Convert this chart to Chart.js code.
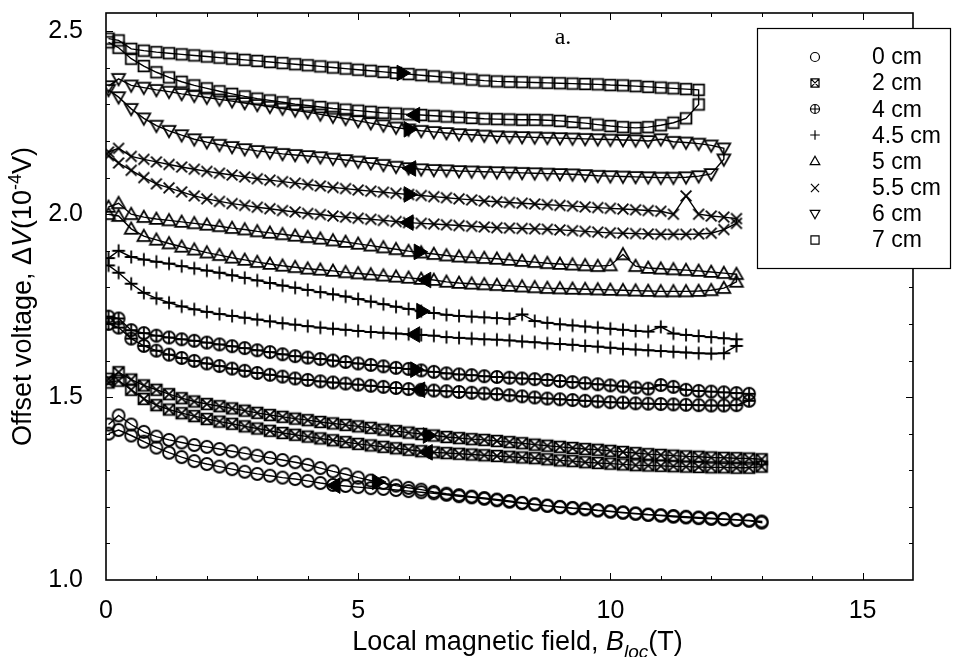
<!DOCTYPE html>
<html><head><meta charset="utf-8">
<script src="https://cdn.jsdelivr.net/npm/chart.js@4.4.1/dist/chart.umd.min.js"></script>
<style>html,body{margin:0;padding:0;background:#fff;}#wrap{width:953px;height:657px;position:relative;}</style>
</head><body><div id="wrap"><canvas id="c" width="953" height="657"></canvas></div>
<script>
// ---- data: local magnetic field grid (T) ----
const G = [0.05,0.25,0.5,0.75,1,1.25,1.5,1.75,2,2.25,2.5,2.75,3,3.25,3.5,3.75,4,4.25,4.5,4.75,5,5.25,5.5,5.75,6,6.25,6.5,6.75,7,7.25,7.5,7.75,8,8.25,8.5,8.75,9,9.25,9.5,9.75,10,10.25,10.5,10.75,11,11.25,11.5,11.75,12,12.25,12.5,12.75,13];

// offset voltage (1e-4 V): up = increasing field branch, dn = decreasing field branch (listed in increasing B order)
const V0_UP = [1.425,1.45,1.425,1.405,1.392,1.383,1.376,1.369,1.364,1.358,1.352,1.346,1.34,1.334,1.328,1.322,1.315,1.306,1.297,1.289,1.28,1.272,1.265,1.258,1.252,1.247,1.241,1.236,1.232,1.228,1.224,1.22,1.216,1.211,1.207,1.203,1.2,1.197,1.195,1.191,1.188,1.185,1.182,1.179,1.177,1.175,1.173,1.171,1.169,1.167,1.165,1.163,1.16];
const V0_DN = [1.4,1.41,1.395,1.378,1.362,1.348,1.336,1.325,1.317,1.31,1.303,1.296,1.29,1.285,1.28,1.276,1.271,1.265,1.26,1.257,1.254,1.251,1.249,1.246,1.243,1.24,1.237,1.233,1.229,1.226,1.222,1.218,1.214,1.21,1.206,1.203,1.199,1.196,1.193,1.19,1.187,1.184,1.181,1.178,1.176,1.173,1.171,1.169,1.167,1.166,1.164,1.162,1.157];
const V2_UP = [1.55,1.568,1.548,1.532,1.52,1.508,1.497,1.488,1.481,1.475,1.469,1.463,1.457,1.451,1.446,1.441,1.437,1.432,1.428,1.424,1.42,1.416,1.411,1.407,1.403,1.399,1.395,1.391,1.388,1.385,1.383,1.38,1.377,1.374,1.37,1.367,1.364,1.361,1.358,1.356,1.353,1.35,1.347,1.344,1.342,1.34,1.338,1.337,1.335,1.334,1.333,1.332,1.33];
const V2_DN = [1.54,1.545,1.52,1.495,1.478,1.466,1.456,1.448,1.44,1.433,1.427,1.42,1.414,1.408,1.402,1.397,1.392,1.387,1.382,1.377,1.372,1.368,1.364,1.36,1.356,1.352,1.349,1.347,1.345,1.343,1.341,1.339,1.337,1.335,1.333,1.33,1.327,1.325,1.322,1.32,1.318,1.316,1.314,1.313,1.312,1.311,1.31,1.309,1.308,1.308,1.307,1.307,1.31];
const V4_UP = [1.72,1.715,1.683,1.675,1.668,1.663,1.658,1.654,1.649,1.644,1.639,1.634,1.628,1.623,1.617,1.612,1.608,1.604,1.6,1.596,1.592,1.588,1.584,1.58,1.577,1.573,1.569,1.565,1.562,1.56,1.557,1.555,1.553,1.551,1.549,1.547,1.544,1.541,1.538,1.535,1.532,1.529,1.526,1.523,1.533,1.528,1.52,1.517,1.515,1.513,1.511,1.509];
const V4_DN = [1.7,1.69,1.66,1.64,1.627,1.616,1.607,1.599,1.592,1.585,1.578,1.572,1.566,1.561,1.556,1.551,1.547,1.543,1.54,1.537,1.534,1.531,1.528,1.525,1.522,1.52,1.518,1.516,1.514,1.512,1.51,1.508,1.505,1.502,1.499,1.496,1.494,1.492,1.49,1.488,1.486,1.485,1.483,1.482,1.481,1.48,1.479,1.478,1.477,1.477,1.478,1.49];
const V45_UP = [1.88,1.9,1.883,1.876,1.87,1.865,1.858,1.852,1.846,1.84,1.833,1.826,1.819,1.812,1.805,1.799,1.793,1.787,1.781,1.775,1.768,1.761,1.754,1.747,1.741,1.735,1.73,1.725,1.722,1.72,1.718,1.716,1.714,1.726,1.708,1.703,1.699,1.696,1.693,1.69,1.687,1.684,1.681,1.679,1.692,1.674,1.67,1.667,1.664,1.661,1.658];
const V45_DN = [1.86,1.84,1.81,1.785,1.77,1.758,1.748,1.74,1.733,1.727,1.722,1.717,1.712,1.707,1.702,1.698,1.694,1.69,1.687,1.684,1.681,1.678,1.676,1.674,1.672,1.67,1.668,1.664,1.662,1.66,1.658,1.657,1.655,1.652,1.65,1.647,1.645,1.643,1.64,1.638,1.635,1.632,1.63,1.628,1.626,1.624,1.622,1.62,1.619,1.62,1.64];
const V5_UP = [2.02,2.03,2.0,1.992,1.987,1.983,1.979,1.975,1.971,1.967,1.962,1.958,1.953,1.949,1.945,1.941,1.937,1.933,1.928,1.924,1.919,1.914,1.909,1.904,1.899,1.895,1.891,1.887,1.884,1.882,1.88,1.878,1.875,1.872,1.869,1.866,1.864,1.862,1.86,1.858,1.86,1.89,1.858,1.853,1.851,1.849,1.847,1.845,1.842,1.839,1.836];
const V5_DN = [2.0,1.995,1.96,1.94,1.93,1.92,1.911,1.903,1.895,1.888,1.881,1.875,1.869,1.864,1.859,1.855,1.851,1.848,1.845,1.841,1.838,1.835,1.832,1.829,1.826,1.823,1.82,1.815,1.812,1.81,1.808,1.806,1.804,1.802,1.8,1.798,1.797,1.796,1.795,1.794,1.793,1.792,1.791,1.79,1.789,1.789,1.789,1.79,1.792,1.798,1.815];
const V55_UP = [2.17,2.18,2.158,2.15,2.143,2.136,2.129,2.123,2.117,2.112,2.107,2.102,2.097,2.093,2.089,2.085,2.081,2.077,2.073,2.07,2.066,2.063,2.06,2.057,2.054,2.051,2.048,2.045,2.042,2.039,2.036,2.034,2.032,2.03,2.028,2.026,2.024,2.022,2.02,2.018,2.016,2.014,2.012,2.01,2.008,2.0,2.05,2.0,1.995,1.992,1.988];
const V55_DN = [2.16,2.14,2.12,2.1,2.083,2.072,2.061,2.05,2.042,2.035,2.029,2.024,2.019,2.015,2.01,2.006,2.002,1.999,1.995,1.992,1.989,1.986,1.983,1.98,1.977,1.975,1.973,1.971,1.969,1.967,1.965,1.963,1.962,1.961,1.96,1.959,1.957,1.955,1.953,1.951,1.949,1.948,1.947,1.946,1.945,1.945,1.945,1.946,1.948,1.958,1.975];
const V6_UP = [2.35,2.37,2.352,2.346,2.34,2.335,2.329,2.324,2.319,2.314,2.309,2.304,2.299,2.294,2.289,2.284,2.279,2.273,2.267,2.261,2.255,2.249,2.243,2.237,2.232,2.228,2.225,2.222,2.219,2.217,2.215,2.213,2.212,2.211,2.21,2.209,2.208,2.207,2.206,2.205,2.204,2.203,2.202,2.2,2.205,2.198,2.196,2.193,2.188,2.18];
const V6_DN = [2.34,2.32,2.288,2.262,2.242,2.228,2.216,2.205,2.197,2.19,2.184,2.178,2.173,2.169,2.165,2.162,2.159,2.156,2.152,2.148,2.144,2.14,2.135,2.13,2.126,2.123,2.121,2.12,2.118,2.117,2.116,2.115,2.114,2.113,2.112,2.111,2.11,2.109,2.107,2.105,2.104,2.103,2.102,2.101,2.1,2.1,2.101,2.104,2.11,2.15];
const V7_UP = [2.48,2.475,2.452,2.447,2.443,2.44,2.437,2.434,2.431,2.428,2.425,2.422,2.419,2.416,2.413,2.41,2.407,2.404,2.401,2.398,2.395,2.392,2.389,2.386,2.383,2.38,2.377,2.374,2.371,2.368,2.365,2.363,2.362,2.361,2.36,2.359,2.358,2.357,2.356,2.355,2.353,2.352,2.35,2.348,2.346,2.344,2.342,2.34];
const V7_DN = [2.47,2.455,2.425,2.405,2.388,2.374,2.362,2.352,2.344,2.336,2.329,2.322,2.316,2.311,2.306,2.301,2.297,2.293,2.289,2.286,2.283,2.28,2.277,2.275,2.273,2.271,2.269,2.267,2.265,2.263,2.261,2.26,2.259,2.258,2.258,2.257,2.255,2.252,2.249,2.245,2.241,2.238,2.236,2.238,2.243,2.25,2.262,2.3];

// sweep-direction arrows (filled triangles)
const ARROW_R_X = [5.37,6.38,6.13,6.25,6.2,6.0,6.0,5.86];
const ARROW_R_Y = [1.268,1.395,1.575,1.735,1.897,2.054,2.232,2.386];
const ARROW_L_X = [4.55,6.38,6.23,6.13,6.35,6.0,6.05,6.13];
const ARROW_L_Y = [1.258,1.349,1.52,1.671,1.82,1.977,2.125,2.271];

const LABELS = ['0 cm','2 cm','4 cm','4.5 cm','5 cm','5.5 cm','6 cm','7 cm'];
const MARKERS = ['circle','boxX','circlePlus','plus','triUp','cross','triDown','square'];
const UPS = [V0_UP,V2_UP,V4_UP,V45_UP,V5_UP,V55_UP,V6_UP,V7_UP];
const DNS = [V0_DN,V2_DN,V4_DN,V45_DN,V5_DN,V55_DN,V6_DN,V7_DN];
const X_TICKS = [0,5,10,15];
const Y_TICKS = [1.0,1.5,2.0,2.5];

function makeMarker(kind, k, lw){
  const S=Math.ceil(17*k)+3, c=document.createElement('canvas'); c.width=S; c.height=S;
  const g=c.getContext('2d'); g.strokeStyle='#000'; g.lineWidth=lw;
  const m=S/2, r=6*k, h=5.4*k, t=6.4*k;
  g.beginPath();
  switch(kind){
    case 'circle': g.arc(m,m,r,0,Math.PI*2); break;
    case 'boxX': g.rect(m-h,m-h,2*h,2*h); g.moveTo(m-h,m-h); g.lineTo(m+h,m+h); g.moveTo(m+h,m-h); g.lineTo(m-h,m+h); break;
    case 'circlePlus': g.arc(m,m,r,0,Math.PI*2); g.moveTo(m-r,m); g.lineTo(m+r,m); g.moveTo(m,m-r); g.lineTo(m,m+r); break;
    case 'plus': g.moveTo(m-t,m); g.lineTo(m+t,m); g.moveTo(m,m-t); g.lineTo(m,m+t); break;
    case 'triUp': g.moveTo(m,m-t); g.lineTo(m+t,m+t*0.75); g.lineTo(m-t,m+t*0.75); g.closePath(); break;
    case 'cross': g.moveTo(m-h,m-h); g.lineTo(m+h,m+h); g.moveTo(m+h,m-h); g.lineTo(m-h,m+h); break;
    case 'triDown': g.moveTo(m,m+t); g.lineTo(m+t,m-t*0.75); g.lineTo(m-t,m-t*0.75); g.closePath(); break;
    case 'square': g.rect(m-h,m-h,2*h,2*h); break;
  }
  g.stroke(); return c;
}
const IMG = MARKERS.map(k=>makeMarker(k,1,1.8));
const IMG_LEG = MARKERS.map(k=>makeMarker(k,0.75,1.2));

function buildLoop(up, dn){
  const pts = up.map((v,i)=>({x:G[i], y:v}));
  for (let i=dn.length-1;i>=0;i--) pts.push({x:G[i], y:dn[i]});
  return pts;
}

const datasets = UPS.map((up,i)=>({
  label: LABELS[i], data: buildLoop(up, DNS[i]),
  showLine:true, borderColor:'#000', borderWidth:1.4, tension:0,
  pointStyle: IMG[i], pointRadius:6, pointHoverRadius:6
}));
datasets.unshift({label:'arrR', data: ARROW_R_X.map((x,i)=>({x, y:ARROW_R_Y[i]})), showLine:false,
  pointStyle:'triangle', rotation:90, pointRadius:9, backgroundColor:'#000', borderColor:'#000', borderWidth:1});
datasets.unshift({label:'arrL', data: ARROW_L_X.map((x,i)=>({x, y:ARROW_L_Y[i]})), showLine:false,
  pointStyle:'triangle', rotation:-90, pointRadius:9, backgroundColor:'#000', borderColor:'#000', borderWidth:1});

function richText(ctx, segs, x, y, align){
  let w=0; for (const s of segs){ ctx.font=s.f; w+=ctx.measureText(s.t).width; }
  let cx = align==='center' ? x - w/2 : x;
  for (const s of segs){ ctx.font=s.f; ctx.fillText(s.t, cx, y + (s.dy||0)); cx += ctx.measureText(s.t).width; }
}

const decor = {
  id:'decor',
  afterDraw(chart){
    const {ctx, chartArea:a, scales:{x,y}} = chart;
    ctx.save();
    ctx.strokeStyle='#000'; ctx.fillStyle='#000';
    ctx.lineWidth=1.6; ctx.strokeRect(a.left, a.top, a.right-a.left, a.bottom-a.top);
    ctx.lineWidth=1; ctx.beginPath();
    for (let v=1; v<16; v++){ const px=Math.round(x.getPixelForValue(v))+0.5; const L = v%5===0?7:4;
      ctx.moveTo(px,a.bottom); ctx.lineTo(px,a.bottom-L); ctx.moveTo(px,a.top); ctx.lineTo(px,a.top+L); }
    for (let k=11; k<=25; k++){ const v=k/10; const py=Math.round(y.getPixelForValue(v))+0.5; const L = k%5===0?7:4;
      ctx.moveTo(a.left,py); ctx.lineTo(a.left+L,py); ctx.moveTo(a.right,py); ctx.lineTo(a.right-L,py); }
    ctx.stroke();
    ctx.font='24px "Liberation Serif", serif'; ctx.textAlign='center'; ctx.textBaseline='middle';
    ctx.fillText('a.', 563, 38);
    ctx.textAlign='left'; ctx.textBaseline='alphabetic';
    richText(ctx, [
      {t:'Local magnetic field, ', f:'27px "Liberation Sans", Arial, sans-serif'},
      {t:'B', f:'italic 27px "Liberation Sans", Arial, sans-serif'},
      {t:'loc', f:'italic 19px "Liberation Sans", Arial, sans-serif', dy:8},
      {t:'(T)', f:'27px "Liberation Sans", Arial, sans-serif'}
    ], (a.left+a.right)/2+8, 650, 'center');
    ctx.save(); ctx.translate(31, (a.top+a.bottom)/2); ctx.rotate(-Math.PI/2);
    richText(ctx, [
      {t:'Offset voltage, \u0394', f:'27px "Liberation Sans", Arial, sans-serif'},
      {t:'V', f:'italic 27px "Liberation Sans", Arial, sans-serif'},
      {t:'(10', f:'27px "Liberation Sans", Arial, sans-serif'},
      {t:'-4', f:'18px "Liberation Sans", Arial, sans-serif', dy:-10},
      {t:'V)', f:'27px "Liberation Sans", Arial, sans-serif'}
    ], 0, 0, 'center');
    ctx.restore();
    // legend
    ctx.fillStyle='#fff'; ctx.fillRect(757, 28, 194, 240);
    ctx.lineWidth=1.2; ctx.strokeRect(757.5, 28.5, 193, 240);
    ctx.fillStyle='#000'; ctx.font='23px "Liberation Sans", Arial, sans-serif'; ctx.textBaseline='middle';
    LABELS.forEach((lab,i)=>{
      const yy = 57 + 26.1*i; const im = IMG_LEG[i];
      ctx.drawImage(im, Math.round(815 - im.width/2), Math.round(yy - im.height/2));
      ctx.fillText(lab, 872, yy+1);
    });
    ctx.restore();
  }
};

new Chart(document.getElementById('c'), {
  type:'scatter',
  data:{datasets},
  options:{
    responsive:false, animation:false, devicePixelRatio:1,
    layout:{padding:{top:13, right:40, left:0, bottom:0}},
    plugins:{legend:{display:false}, tooltip:{enabled:false}},
    scales:{
      x:{type:'linear', min:0, max:16,
        afterBuildTicks(s){ s.ticks = X_TICKS.map(v=>({value:v})); },
        afterFit(s){ s.height = 77; s.paddingLeft = 0; s.paddingRight = 0; },
        grid:{display:false}, border:{display:false},
        ticks:{color:'#000', padding:8, maxRotation:0, font:{family:'"Liberation Sans", Arial, sans-serif', size:25}, callback:v=>String(v)}},
      y:{type:'linear', min:1.0, max:2.55,
        afterBuildTicks(s){ s.ticks = Y_TICKS.map(v=>({value:v})); },
        afterFit(s){ s.width = 106; s.paddingTop = 0; s.paddingBottom = 0; },
        grid:{display:false}, border:{display:false},
        ticks:{color:'#000', padding:15, font:{family:'"Liberation Sans", Arial, sans-serif', size:25}, callback:v=>Number(v).toFixed(1)}}
    }
  },
  plugins:[decor]
});
</script></body></html>
